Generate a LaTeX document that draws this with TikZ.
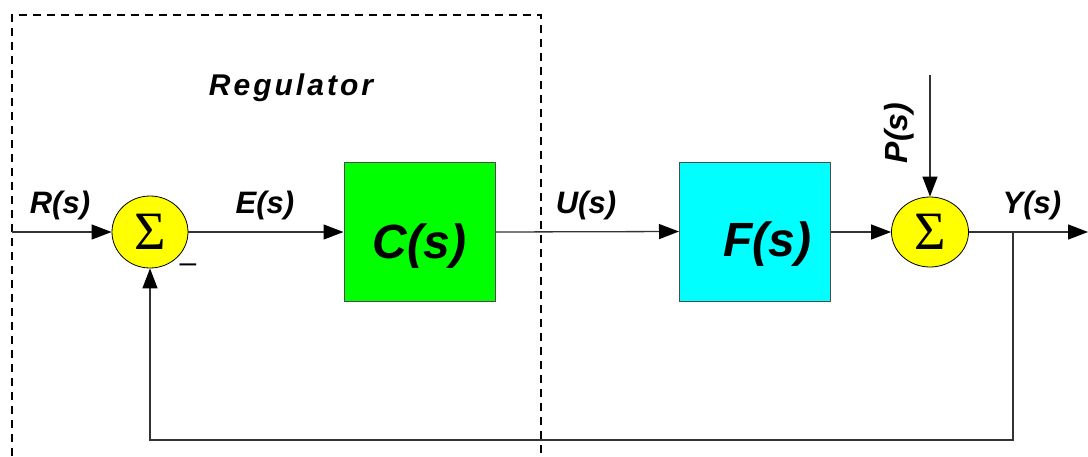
\documentclass[tikz,border=0pt]{standalone}
\usepackage{fontspec}
\setmainfont{Liberation Sans}
\newfontfamily\timesf{Liberation Serif}
\usetikzlibrary{arrows.meta,shapes.geometric}
\definecolor{sumyellow}{RGB}{255,255,0}
\definecolor{cgreen}{RGB}{0,255,0}
\definecolor{fcyan}{RGB}{0,255,255}
\begin{document}
\begin{tikzpicture}[x=1pt,y=-1pt,
  sig/.style={draw=black!80, line width=1.3pt},
  arr/.style={sig, -{Triangle[length=20pt,width=15pt,color=black]}},
  sumnode/.style={ellipse, draw=black, line width=0.8pt, fill=sumyellow, minimum width=76pt, minimum height=72pt, inner sep=0pt, font=\timesf\fontsize{54}{54}\selectfont},
  block/.style={draw=black!70, line width=1pt, minimum width=151pt, minimum height=139pt, inner sep=0pt},
  blocktext/.style={font=\fontsize{48}{48}\selectfont\bfseries\itshape, inner sep=0pt},
  lbl/.style={font=\fontsize{31}{31}\selectfont\bfseries\itshape, inner sep=0pt},
  regbox/.style={draw=black, line width=1.5pt, dash pattern=on 8pt off 6pt}
]
\path[use as bounding box] (0,0) rectangle (1088,456);
\begin{scope}
  \clip (0,0) rectangle (1088,456);
  \draw[regbox] (12,470) -- (12,15) -- (541,15) -- (541,470);
\end{scope}

\node[lbl, font=\fontsize{30}{30}\selectfont\bfseries\itshape\addfontfeature{LetterSpace=10}, anchor=base] (reg) at (291,95) {Regulator};

\node[sumnode] (s1) at (150,232) {Σ};
\node[sumnode, minimum height=70pt, minimum width=77pt] (s2) at (930,232) {Σ};
\node[block, fill=cgreen] (C) at (419.5,231.5) {};
\node[blocktext, anchor=base] (Ct) at ([yshift=-26.5pt]C.center) {C(s)};
\node[block, fill=fcyan] (F) at (755,231.5) {};
\node[blocktext, anchor=base] (Ft) at ([xshift=12pt,yshift=-24.5pt]F.center) {F(s)};

\node[lbl, anchor=base] (R) at (60,213) {R(s)};
\node[lbl, anchor=base] (E) at (265,213) {E(s)};
\node[lbl, anchor=base] (U) at (586,213) {U(s)};
\node[lbl, anchor=base] (Y) at (1032,213) {Y(s)};
\node[lbl, rotate=90, font=\fontsize{32}{32}\selectfont\bfseries\itshape] (P) at (899,133) {P(s)};
\node[lbl, font=\fontsize{30}{30}\selectfont] (minus) at (188,268) {–};

\coordinate (in) at (12,232);
\coordinate (out) at (1088,232);
\coordinate (br) at (1013,232);
\coordinate (fb) at (1013,440);
\coordinate (pin) at (930,75);

\draw[arr] (in) -- (s1.west);
\draw[arr] (s1.east) -- (s1.east -| C.west);
\draw[arr] (C.east |- s1.east) -- (C.east -| F.west);
\draw[arr] (F.east |- s2.west) -- (s2.west);
\draw[arr] (s2.east) -- (out);
\draw[arr] (br) -- (fb) -| (s1.south);
\draw[arr] (pin) -- (s2.north);
\end{tikzpicture}
\end{document}
